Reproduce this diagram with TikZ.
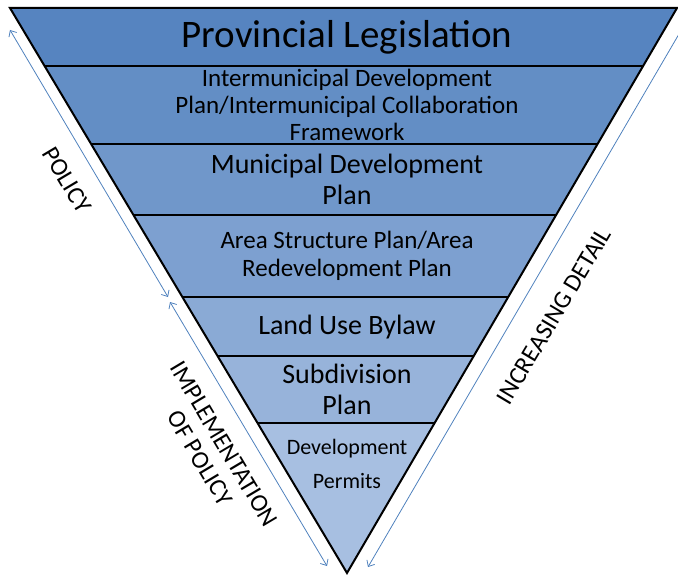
\documentclass[tikz,border=0pt]{standalone}
\usepackage{fontspec}
\setmainfont{Carlito}
\usepackage{tikz}
\usetikzlibrary{calc,arrows.meta}

\definecolor{bandtop}{RGB}{86,132,192}
\definecolor{bandbottom}{RGB}{167,191,225}
\definecolor{guideblue}{RGB}{79,129,189}

\tikzset{
	layer/.style={align=center, text=black, inner sep=0pt},
	sidelabel/.style={align=center, inner sep=0pt, font=\fontsize{25}{28}\selectfont},
	guide/.style={draw=guideblue, line width=0.8pt,
		{Straight Barb[length=5pt,width=9pt]}-{Straight Barb[length=5pt,width=9pt]}}
}

\begin{document}
\begin{tikzpicture}[x=1pt,y=-1pt]
		\useasboundingbox (0,0) rectangle (678,575);
		\clip (0,0) rectangle (678,575);

		\coordinate (tl) at (10,8);
		\coordinate (tr) at (677,8);
		\coordinate (apex) at (347,573);

		% bands, top to bottom
		\foreach \ta/\tb/\pct in {0/0.1027/100, 0.1027/0.2407/84, 0.2407/0.3664/68,
				0.3664/0.5115/52, 0.5115/0.6159/36, 0.6159/0.7345/20, 0.7345/1/0}{
			\fill[bandtop!\pct!bandbottom] ($(tl)!\ta!(apex)$) -- ($(tr)!\ta!(apex)$)
				-- ($(tr)!\tb!(apex)$) -- ($(tl)!\tb!(apex)$) -- cycle;
		}
		\foreach \tb in {0.1027,0.2407,0.3664,0.5115,0.6159,0.7345}{
			\draw[line width=1.5pt] ($(tl)!\tb!(apex)$) -- ($(tr)!\tb!(apex)$);
		}
		\draw[line width=2pt] (tl) -- (tr) -- (apex) -- cycle;

		\node[layer, font=\fontsize{39}{42}\selectfont] (prov) at (347,37) {Provincial Legislation};
		\node[layer, font=\fontsize{25}{27}\selectfont] (idp) at (347,105)
			{Intermunicipal Development\\Plan/Intermunicipal Collaboration\\Framework};
		\node[layer, font=\fontsize{28}{31}\selectfont] (mdp) at (347,179) {Municipal Development\\Plan};
		\node[layer, font=\fontsize{25}{28}\selectfont] (asp) at (347,256) {Area Structure Plan/Area\\Redevelopment Plan};
		\node[layer, font=\fontsize{28}{31}\selectfont] (lub) at (347,327) {Land Use Bylaw};
		\node[layer, font=\fontsize{28}{31}\selectfont] (sub) at (347,389) {Subdivision\\Plan};
		\node[layer, font=\fontsize{22}{34}\selectfont] (dp) at (347,464) {Development\\Permits};

		\node[sidelabel, rotate=-59.2] (policy) at (67,180) {POLICY};
		\node[sidelabel, rotate=-59.2] (impl) at (212,451) {IMPLEMENTATION\\OF POLICY};
		\node[sidelabel, rotate=59.2] (detail) at (554,316) {INCREASING DETAIL};

		\coordinate (pol-top) at (10,30);
		\coordinate (pol-bot) at (168,297);
		\coordinate (imp-top) at (170,302);
		\coordinate (imp-bot) at (327,566);
		\coordinate (det-top) at (693,10);
		\coordinate (det-bot) at (368,567);

		\draw[guide] (pol-top) -- (pol-bot);
		\draw[guide] (imp-top) -- (imp-bot);
		\draw[guide] (det-top) -- (det-bot);
\end{tikzpicture}
\end{document}
